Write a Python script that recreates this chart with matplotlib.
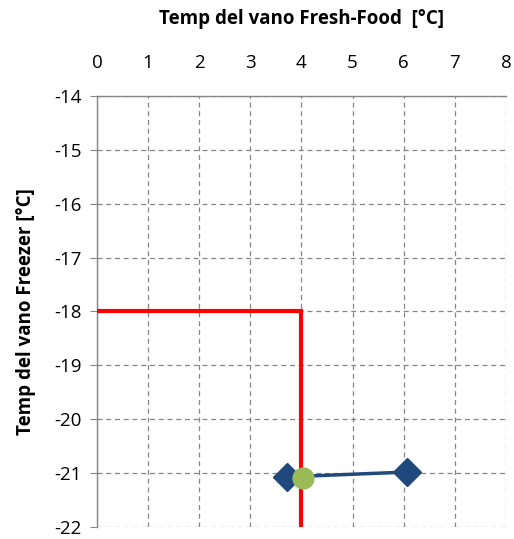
import matplotlib

matplotlib.use("Agg")
import matplotlib.pyplot as plt

plt.rcParams["font.family"] = ["Open Sans", "DejaVu Sans"]
plt.rcParams["axes.unicode_minus"] = False

# limit lines (fresh-food max / freezer max)
limit_x = [0, 4, 4]
limit_y = [-18, -18, -22.5]

# measured test points
test_x = [3.72, 6.07]
test_y = [-21.07, -20.98]

# interpolated point
interp_x = [4.03]
interp_y = [-21.09]

x_ticks = list(range(0, 9))
y_ticks = list(range(-22, -13))

fig = plt.figure(figsize=(5.14, 5.39), dpi=100)
ax = fig.add_axes([0.1887, 0.0223, 0.7957, 0.7996])

ax.plot(limit_x, limit_y, color="#ff0000", linewidth=3, solid_joinstyle="miter", zorder=3)
ax.plot(test_x, test_y, color="#1f497d", linewidth=2.5, marker="D", markersize=14,
        markerfacecolor="#1f497d", markeredgecolor="#1f497d", zorder=4)
ax.plot(interp_x, interp_y, linestyle="none", marker="o", markersize=15,
        color="#9bbb59", zorder=5)

ax.set_xlim(0, 8)
ax.set_ylim(-22, -14)
ax.set_xticks(x_ticks)
ax.set_yticks(y_ticks)
ax.xaxis.tick_top()
ax.xaxis.set_label_position("top")
ax.tick_params(axis="x", length=0, pad=17, labelsize=13.5)
ax.tick_params(axis="y", length=5, color="#868686", pad=6, labelsize=13.5)

ax.grid(True, color="#868686", linestyle=(0, (4, 3)), linewidth=0.9)
for side in ["right", "bottom"]:
    ax.spines[side].set_visible(False)
for side in ["left", "top"]:
    ax.spines[side].set_color("#868686")
    ax.spines[side].set_linewidth(1)

ax.set_xlabel("Temp del vano Fresh-Food  [°C]", fontsize=13.5, fontweight="bold", labelpad=22)
ax.set_ylabel("Temp del vano Freezer [°C]", fontsize=13.5, fontweight="bold", labelpad=13)

fig.savefig("out.png", dpi=100)
plt.close(fig)
